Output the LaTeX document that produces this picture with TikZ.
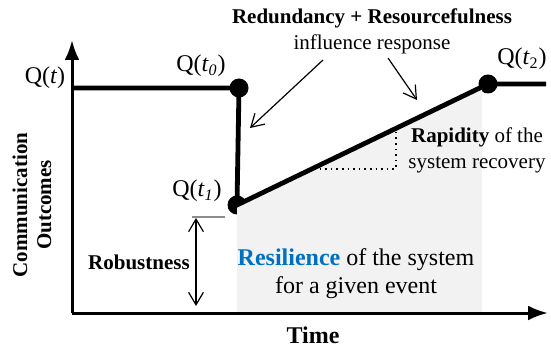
\documentclass[tikz,border=0pt]{standalone}
\usepackage{fontspec}
\setmainfont{Liberation Serif}
\usetikzlibrary{arrows.meta,positioning}
\definecolor{resblue}{RGB}{0,112,192}
\tikzset{
  axis/.style={-{Latex[length=3.5mm,width=2.6mm]}, line width=1.5pt},
  curve/.style={line width=2.4pt},
  dot/.style={circle, fill=black, inner sep=0pt, minimum size=9.5pt},
  pointer/.style={-{Straight Barb[length=2.2mm,width=2.6mm]}, line width=0.6pt},
  lbl/.style={font=\fontsize{10.5}{14}\selectfont, inner sep=1pt, align=center},
  biglbl/.style={lbl, font=\fontsize{12}{14}\selectfont},
  qlbl/.style={font=\fontsize{12}{14}\selectfont, inner sep=1pt},
  shade/.style={fill=black!5},
}

\begin{document}
\begin{tikzpicture}[x=0.5pt,y=-0.5pt]
\useasboundingbox (0,0) rectangle (551,347);

% ================= axes =================
\coordinate (o) at (72,313);
\coordinate (ytip) at (72,40);
\coordinate (xtip) at (548,313);

% ================= quality curve points =================
\coordinate (qt) at (72,88);
\node[dot] (q0) at (239,88) {};
\node[dot] (q1) at (237,205) {};
\node[dot] (q2) at (488,84) {};
\coordinate (qend) at (546,84);

% shaded area under the recovery line
\coordinate (sh) at (482,87);
\fill[shade] (q1.center) -- (sh) -- (sh |- o) -- (q1.center |- o) -- cycle;

\draw[axis] (o) -- (ytip);
\draw[axis] (o) -- (xtip);

\draw[curve] (qt) -- (q0.center) -- (q1.center) -- (q2.center) -- (qend);

% ================= point labels =================
\node[qlbl] (lqt) at (45,78) {Q(\textit{t})};
\node[qlbl] (lq0) at (201,66) {Q(\textit{t}\textsubscript{\textit{0}})};
\node[qlbl] (lq1) at (197,191) {Q(\textit{t}\textsubscript{\textit{1}})};
\node[qlbl] (lq2) at (522,59) {Q(\textit{t}\textsubscript{2})};

% ================= response annotation =================
\node[lbl] (resp) at (372,31)
  {\textbf{Redundancy + Resourcefulness}\\[-1pt] influence response};
\coordinate (a1s) at (323,60);
\coordinate (a1e) at (250,128);
\coordinate (a2s) at (388,58);
\coordinate (a2e) at (417,100);
\draw[pointer] (a1s) -- (a1e);
\draw[pointer] (a2s) -- (a2e);

% ================= rapidity =================
\coordinate (r1) at (314,169);
\coordinate (r2) at (396,169);
\coordinate (r3) at (396,129);
\draw[dotted, line width=0.8pt] (r1) -- (r2) -- (r3);
\node[lbl] (rap) at (477,150) {\textbf{Rapidity} of the\\[-1pt] system recovery};

% ================= robustness =================
\coordinate (rb1) at (196,218);
\coordinate (rb2) at (196,306);
\coordinate (tk1) at (192,217);
\coordinate (tk2) at (225,217);
\draw[black!45, line width=0.6pt] (tk1) -- (tk2);
\draw[{Straight Barb[length=2.2mm,width=2.6mm]}-{Straight Barb[length=2.2mm,width=2.6mm]}, line width=0.6pt] (rb1) -- (rb2);
\node[lbl] (rob) at (139,262) {\textbf{Robustness}};

% ================= resilience =================
\node[biglbl] (res) at (356,274)
  {\textbf{\textcolor{resblue}{Resilience}} of the system\\ for a given event};

% ================= axis titles =================
\node[biglbl] (time) at (313,335) {\textbf{Time}};
\node[lbl, rotate=90] (outc) at (32,205) {\textbf{Communication}\\[-2pt] \textbf{Outcomes}};

\end{tikzpicture}
\end{document}
